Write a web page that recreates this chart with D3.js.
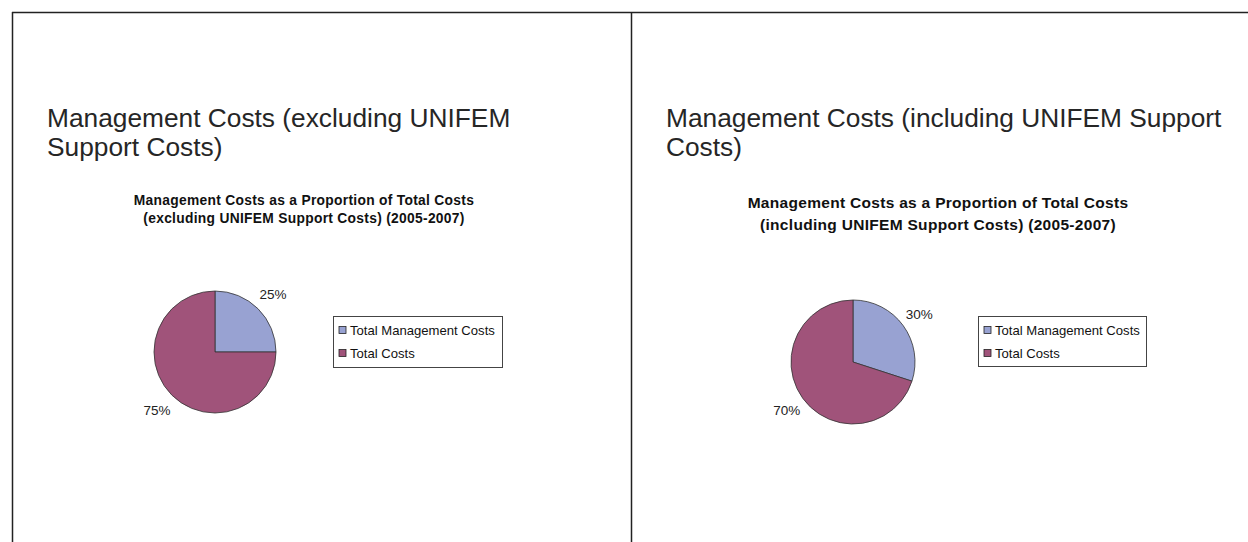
<!DOCTYPE html>
<html>
<head>
<meta charset="utf-8">
<script src="https://cdn.jsdelivr.net/npm/d3@7"></script>
<style>
  body { margin: 0; background: #fff; }
  svg { display: block; font-family: Arial, "Liberation Sans", sans-serif; }
</style>
</head>
<body>
<svg id="plot" width="1248" height="542"></svg>
<script>
// data
const categories = ["Total Management Costs", "Total Costs"];
const excludingValues = [25, 75];
const includingValues = [30, 70];
const colors = ["#98a2d2", "#a0537a"];

const panels = [
	{
		x0: 12, heading: ["Management Costs (excluding UNIFEM", "Support Costs)"],
		title: ["Management Costs as a Proportion of Total Costs", "(excluding UNIFEM Support Costs) (2005-2007)"],
		titleX: 304, titleY: [205, 223], titleSize: 13.8,
		values: excludingValues, cx: 215, cy: 352, r: 61,
		legend: { x: 333, y: 316, w: 169, h: 51 }
	},
	{
		x0: 631, heading: ["Management Costs (including UNIFEM Support", "Costs)"],
		title: ["Management Costs as a Proportion of Total Costs", "(including UNIFEM Support Costs) (2005-2007)"],
		titleX: 938, titleY: [208, 230], titleSize: 15.5,
		values: includingValues, cx: 853, cy: 362, r: 62,
		legend: { x: 978, y: 316, w: 168, h: 50 }
	}
];

const svg = d3.select("#plot");

// frame lines
svg.append("line").attr("x1", 12).attr("x2", 1248).attr("y1", 12.5).attr("y2", 12.5)
	.attr("stroke", "#222").attr("stroke-width", 1.5);
svg.append("line").attr("x1", 12.5).attr("x2", 12.5).attr("y1", 12).attr("y2", 542)
	.attr("stroke", "#222").attr("stroke-width", 1.5);
svg.append("line").attr("x1", 631.5).attr("x2", 631.5).attr("y1", 12).attr("y2", 542)
	.attr("stroke", "#222").attr("stroke-width", 1.5);

const pie = d3.pie().sort(null);

panels.forEach(p => {
	const g = svg.append("g");

	g.selectAll("text.heading").data(p.heading).enter()
		.append("text")
		.attr("class", "heading")
		.attr("x", p.x0 + 35)
		.attr("y", (d, i) => 127 + i * 29)
		.attr("font-size", 26.3)
		.attr("fill", "#262626")
		.text(d => d);

	g.selectAll("text.title").data(p.title).enter()
		.append("text")
		.attr("class", "title")
		.attr("x", p.titleX)
		.attr("y", (d, i) => p.titleY[i])
		.attr("text-anchor", "middle")
		.attr("font-size", p.titleSize)
		.attr("font-weight", "bold")
		.attr("letter-spacing", 0.3)
		.attr("fill", "#111")
		.text(d => d);

	const arcs = pie(p.values);
	const arc = d3.arc().innerRadius(0).outerRadius(p.r);
	const labelArc = d3.arc().innerRadius(82).outerRadius(82);

	const pg = g.append("g").attr("transform", `translate(${p.cx},${p.cy})`);
	pg.selectAll("path").data(arcs).enter()
		.append("path")
		.attr("d", arc)
		.attr("fill", (d, i) => colors[i])
		.attr("stroke", "#333")
		.attr("stroke-width", 0.8);

	pg.selectAll("text").data(arcs).enter()
		.append("text")
		.attr("transform", d => `translate(${labelArc.centroid(d)})`)
		.attr("text-anchor", "middle")
		.attr("dy", "0.35em")
		.attr("font-size", 13.5)
		.attr("fill", "#222")
		.text(d => d.data + "%");

	const lg = g.append("g").attr("transform", `translate(${p.legend.x},${p.legend.y})`);
	lg.append("rect")
		.attr("x", 0.5).attr("y", 0.5)
		.attr("width", p.legend.w).attr("height", p.legend.h)
		.attr("fill", "#fff").attr("stroke", "#444").attr("stroke-width", 1);
	const items = lg.selectAll("g.item").data(categories).enter()
		.append("g").attr("class", "item")
		.attr("transform", (d, i) => `translate(6,${14 + i * 23})`);
	items.append("rect")
		.attr("x", 0).attr("y", -3.5).attr("width", 7).attr("height", 7)
		.attr("fill", (d, i) => colors[i]).attr("stroke", "#222").attr("stroke-width", 0.8);
	items.append("text")
		.attr("x", 11).attr("dy", "0.35em")
		.attr("font-size", 13.1).attr("fill", "#111")
		.text(d => d);
});
</script>
</body>
</html>
